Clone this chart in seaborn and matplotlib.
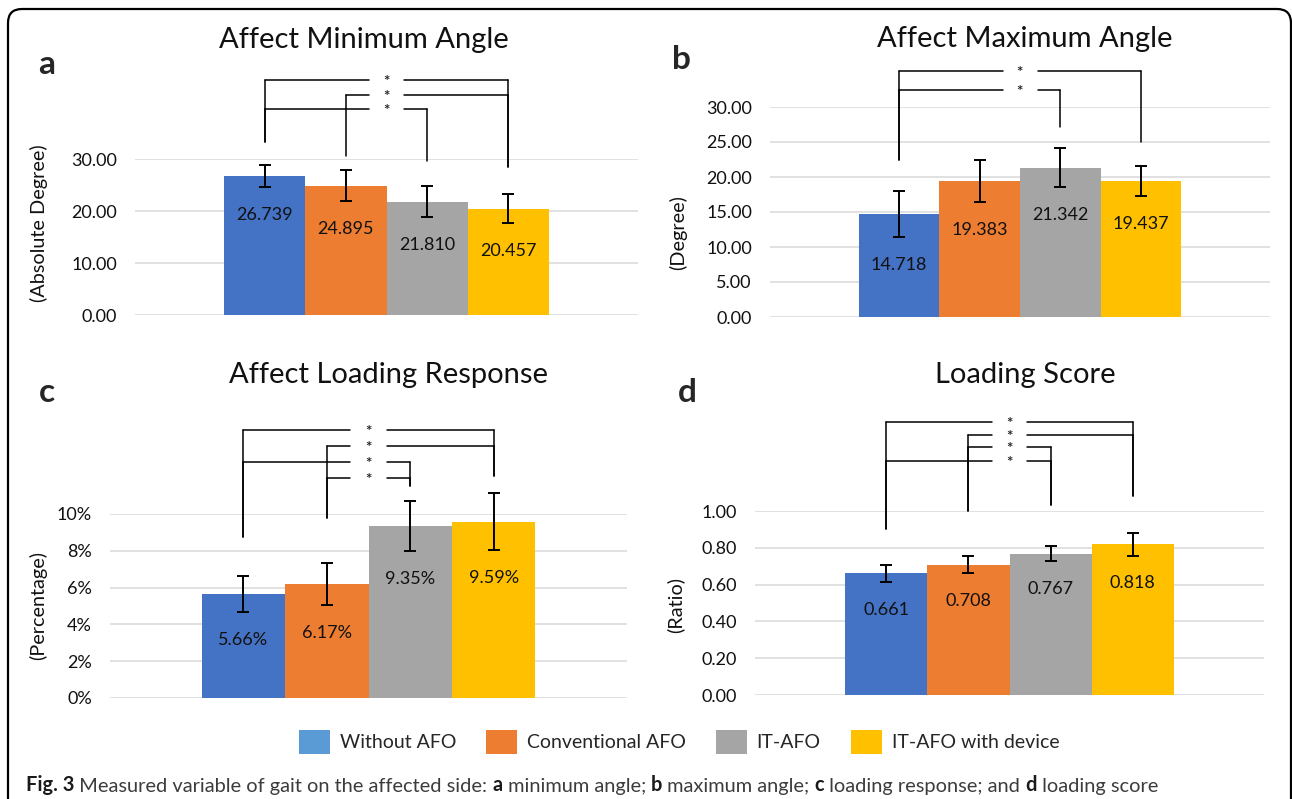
import numpy as np
import pandas as pd
import matplotlib
matplotlib.use("Agg")
import matplotlib.pyplot as plt
import seaborn as sns
from matplotlib.patches import Patch, FancyBboxPatch
from matplotlib.ticker import PercentFormatter, FormatStrFormatter
from matplotlib.transforms import IdentityTransform

# --- data ---
groups = ["Without AFO", "Conventional AFO", "IT-AFO", "IT-AFO with device"]

min_angle = [26.739, 24.895, 21.810, 20.457]
min_angle_err = [2.1, 3.0, 3.0, 2.8]

max_angle = [14.718, 19.383, 21.342, 19.437]
max_angle_err = [3.3, 3.0, 2.8, 2.2]

loading_resp = [5.66, 6.17, 9.35, 9.59]   # percent
loading_resp_err = [0.98, 1.14, 1.38, 1.55]

loading_score = [0.661, 0.708, 0.767, 0.818]
loading_score_err = [0.048, 0.046, 0.041, 0.060]

# significance brackets: (bar i, bar j, height) and where each leg stops
min_brackets = [(0, 3, 45.2), (1, 3, 42.3), (0, 2, 39.6)]
min_legs = [33.3, 30.6, 29.6, 28.5]
max_brackets = [(0, 3, 35.2), (0, 2, 32.4)]
max_legs = [22.4, None, 27.2, 25.0]
resp_brackets = [(0, 3, 14.57), (1, 3, 13.7), (0, 2, 12.8), (1, 2, 11.95)]
resp_legs = [8.75, 9.8, 11.5, 12.05]
score_brackets = [(0, 3, 1.484), (1, 3, 1.413), (1, 2, 1.348), (0, 2, 1.272)]
score_legs = [0.902, 1.0, 1.033, 1.082]

bar_colors = ["#4472C4", "#ED7D31", "#A5A5A5", "#FFC000"]
legend_colors = ["#5B9BD5", "#ED7D31", "#A5A5A5", "#FFC000"]

W, H = 1292, 799
sns.set_style("white")
plt.rcParams['font.family'] = ['Lato', 'DejaVu Sans']
plt.rcParams['mathtext.fontset'] = 'custom'
plt.rcParams['mathtext.rm'] = 'Lato'
plt.rcParams['mathtext.it'] = 'Lato'
plt.rcParams['mathtext.bf'] = 'Lato:bold'


def fx(px):
    return px / W


def fy(py):
    return 1 - py / H


fig = plt.figure(figsize=(W / 100, H / 100), dpi=100)

panels = [
    dict(letter="a", title="Affect Minimum Angle", ylabel="(Absolute Degree)",
         vals=min_angle, errs=min_angle_err, brackets=min_brackets, legs=min_legs,
         box=(135, 638, 159, 315), ymax=30, step=10,
         fmt="{:.3f}", tickfmt=FormatStrFormatter("%.2f"),
         title_xy=(364, 48), letter_xy=(38, 74), ylab_xy=(39, 223)),
    dict(letter="b", title="Affect Maximum Angle", ylabel="(Degree)",
         vals=max_angle, errs=max_angle_err, brackets=max_brackets, legs=max_legs,
         box=(770, 1270, 107, 317), ymax=30, step=5,
         fmt="{:.3f}", tickfmt=FormatStrFormatter("%.2f"),
         title_xy=(1025, 47), letter_xy=(672, 69), ylab_xy=(678, 233)),
    dict(letter="c", title="Affect Loading Response", ylabel="(Percentage)",
         vals=loading_resp, errs=loading_resp_err, brackets=resp_brackets, legs=resp_legs,
         box=(110, 627, 514, 698), ymax=10, step=2,
         fmt="{:.2f}%", tickfmt=PercentFormatter(100, decimals=0),
         title_xy=(388, 383), letter_xy=(39, 402), ylab_xy=(38, 605)),
    dict(letter="d", title="Loading Score", ylabel="(Ratio)",
         vals=loading_score, errs=loading_score_err, brackets=score_brackets, legs=score_legs,
         box=(755, 1264, 511, 695), ymax=1.0, step=0.2,
         fmt="{:.3f}", tickfmt=FormatStrFormatter("%.2f"),
         title_xy=(1025, 383), letter_xy=(678, 402), ylab_xy=(675, 605)),
]

for p in panels:
    l, r, t, b = p["box"]
    ax = fig.add_axes([fx(l), fy(b), (r - l) / W, (b - t) / H])
    df = pd.DataFrame({"metric": "x", "group": groups, "value": p["vals"]})
    sns.barplot(data=df, x="metric", y="value", hue="group", hue_order=groups,
                palette=bar_colors, saturation=1, errorbar=None, width=0.8,
                linewidth=0, legend=False, ax=ax)
    ax.set_xlim(-0.62, 0.62)
    ax.set_ylim(0, p["ymax"])
    ax.set_yticks(np.arange(0, p["ymax"] + p["step"] / 2, p["step"]))
    ax.yaxis.set_major_formatter(p["tickfmt"])
    ax.set_xticks([])
    ax.set_xlabel("")
    ax.set_ylabel("")
    ax.tick_params(axis="y", length=0, pad=13, labelsize=13, colors="#111111")
    ax.grid(axis="y", color="#D9D9D9", lw=1.1)
    ax.set_axisbelow(True)
    sns.despine(ax=ax, left=True, bottom=True)

    bars = sorted(ax.patches, key=lambda b_: b_.get_x())
    xs = [b_.get_x() + b_.get_width() / 2 for b_ in bars]

    ax.errorbar(xs, p["vals"], yerr=p["errs"], fmt="none", ecolor="black",
                elinewidth=1.4, capsize=4.3, capthick=1.4, clip_on=False)

    for x, v, e in zip(xs, p["vals"], p["errs"]):
        ax.annotate(p["fmt"].format(v), xy=(x, v - e), xytext=(0, -20),
                    textcoords="offset points", ha="center", va="center",
                    fontsize=13, color="#111111")

    # brackets with a gap for the star
    gap = 0.035 * 1.24
    for i, j, yb in p["brackets"]:
        kw = dict(color="black", lw=1.1, clip_on=False)
        ax.plot([xs[i], xs[i]], [p["legs"][i], yb], **kw)
        ax.plot([xs[j], xs[j]], [p["legs"][j], yb], **kw)
        ax.plot([xs[i], -gap], [yb, yb], **kw)
        ax.plot([gap, xs[j]], [yb, yb], **kw)
        # mathtext gives a tight box around the asterisk
        ax.annotate(r"$\mathbf{*}$", xy=(0, yb), ha="center", va="center",
                    fontsize=11, annotation_clip=False)

    fig.text(fx(p["title_xy"][0]), fy(p["title_xy"][1]), p["title"],
             ha="center", va="baseline", fontsize=21, color="#111111")
    fig.text(fx(p["letter_xy"][0]), fy(p["letter_xy"][1]), p["letter"],
             ha="left", va="baseline", fontsize=24, fontweight="bold")
    fig.text(fx(p["ylab_xy"][0]), fy(p["ylab_xy"][1]), p["ylabel"],
             ha="center", va="center", rotation=90, fontsize=14.3, color="#111111")

handles = [Patch(facecolor=c, edgecolor="none") for c in legend_colors]
fig.legend(handles, groups, loc="center", bbox_to_anchor=(fx(679), fy(742)),
           ncol=4, frameon=False, fontsize=14, handlelength=1.6, handleheight=1.55,
           handletextpad=0.5, columnspacing=1.55)

# caption with bold pieces
overlay = fig.add_axes([0, 0, 1, 1])
overlay.set_axis_off()
caption = [("Fig. 3", True), (" Measured variable of gait on the affected side: ", False),
           ("a", True), (" minimum angle; ", False), ("b", True), (" maximum angle; ", False),
           ("c", True), (" loading response; and ", False), ("d", True), (" loading score", False)]
prev = None
for txt, bold in caption:
    kw = dict(fontsize=14.4, fontweight="bold" if bold else "normal",
              color="#1a1a1a" if bold else "#3c3c3c", ha="left", va="bottom")
    if prev is None:
        prev = overlay.annotate(txt, xy=(fx(26), fy(795)), xycoords="figure fraction", **kw)
    else:
        prev = overlay.annotate(txt, xy=(1, 0), xycoords=prev, **kw)

frame = FancyBboxPatch((8, -40), 1283, 830, boxstyle="round,pad=0,rounding_size=14",
                       transform=IdentityTransform(), fill=False, lw=1.6,
                       edgecolor="black", clip_on=False)
fig.patches.append(frame)

fig.savefig("out.png", dpi=100)
